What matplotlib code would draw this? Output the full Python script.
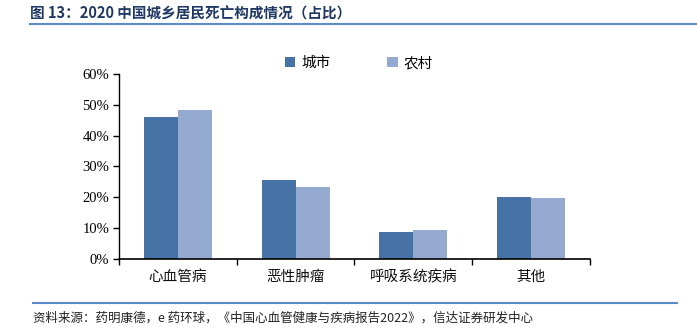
import matplotlib
matplotlib.use("Agg")
import numpy as np
from matplotlib import pyplot as plt
from matplotlib.ticker import PercentFormatter

plt.rcParams['font.family'] = ['Noto Sans CJK SC', 'DejaVu Sans']

# 2020 death causes, urban vs rural share
categories = ["心血管病", "恶性肿瘤", "呼吸系统疾病", "其他"]
city = [45.9, 25.5, 8.8, 20.0]
rural = [48.2, 23.2, 9.2, 19.8]
y_ticks = [0, 10, 20, 30, 40, 50, 60]

fig = plt.figure(figsize=(6.97, 3.28), dpi=100)
ax = fig.add_axes([0.1707, 0.2113, 0.6758, 0.5631])

x = np.arange(len(categories))
w = 0.288
ax.bar(x - w / 2, city, width=w, color="#4672A6", label="城市")
ax.bar(x + w / 2, rural, width=w, color="#94AAD0", label="农村")

ax.set_xlim(-0.5, len(categories) - 0.5)
ax.set_ylim(0, 60)
ax.set_yticks(y_ticks)
ax.yaxis.set_major_formatter(PercentFormatter(decimals=0))
for lbl in ax.get_yticklabels():
    lbl.set_fontfamily("Liberation Serif")
    lbl.set_fontsize(10.5)
ax.set_xticks(x)
ax.set_xticklabels(categories, fontsize=10.5, color="#111111")
ax.set_xticks(np.arange(len(categories) + 1) - 0.5, minor=True)
ax.tick_params(axis="x", which="major", length=0, pad=8)
ax.tick_params(axis="x", which="minor", length=4, direction="out", width=1)
ax.tick_params(axis="y", length=4, width=1, pad=3)
for s in ["top", "right"]:
    ax.spines[s].set_visible(False)
ax.spines["left"].set_linewidth(1)
ax.spines["bottom"].set_linewidth(1.2)

leg = fig.legend(loc="center", bbox_to_anchor=(0.515, 0.808), ncol=2, frameon=False,
                 fontsize=10.5, handlelength=0.7, handleheight=0.7, handletextpad=0.4,
                 columnspacing=3.9)

# title and source lines
fig.text(0.043, 0.958, "图 13：2020 中国城乡居民死亡构成情况（占比）", fontsize=10.5,
         fontweight="bold", color="#1F3864", va="center", ha="left")
fig.add_artist(plt.Line2D([0.043, 1.0], [0.927, 0.927], color="#5B8BC9", lw=1.5))
fig.add_artist(plt.Line2D([0.048, 0.972], [0.077, 0.077], color="#5B8BC9", lw=1.5))
fig.text(0.048, 0.03, "资料来源：药明康德，e 药环球，《中国心血管健康与疾病报告2022》，信达证券研发中心",
         fontsize=9, color="#222222", va="center", ha="left", style="italic")

plt.savefig("out.png", dpi=100)
